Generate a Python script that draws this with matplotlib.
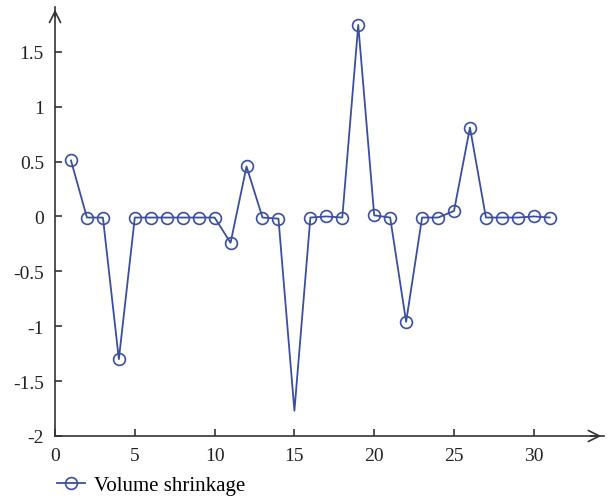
import matplotlib.pyplot as plt
from matplotlib.lines import Line2D

plt.rcParams['font.family'] = ['Liberation Serif', 'DejaVu Serif']

x_vals = list(range(1, 32))
shrinkage = [0.51, -0.01, -0.01, -1.30, -0.01, -0.01, -0.01, -0.01, -0.01, -0.01,
             -0.24, 0.455, -0.01, -0.02, -1.77, -0.01, 0.0, -0.01, 1.745, 0.01,
             -0.01, -0.96, -0.01, -0.01, 0.05, 0.81, -0.01, -0.01, -0.01, 0.0,
             -0.01]
x_ticks = [0, 5, 10, 15, 20, 25, 30]
y_ticks = [-2, -1.5, -1, -0.5, 0, 0.5, 1, 1.5]
y_labels = ['-2', '-1.5', '-1', '-0.5', '0', '0.5', '1', '1.5']
no_marker = [15]

color = '#3a4fa0'

fig = plt.figure(figsize=(6.1, 5.02), dpi=100)
ax = fig.add_axes([0.0902, 0.1295, 0.9, 0.855])

marks = [i for i, xv in enumerate(x_vals) if xv not in no_marker]
ax.plot(x_vals, shrinkage, color=color, linewidth=1.3, marker='o', markersize=8.5,
        markerfacecolor='none', markeredgewidth=1.2, markevery=marks)

ax.set_xlim(0, 34.4)
ax.set_ylim(-2, 1.91)
ax.set_xticks(x_ticks)
ax.set_yticks(y_ticks)
ax.set_yticklabels(y_labels)
ax.tick_params(direction='in', length=5, width=1.2, colors='#333333',
               labelsize=14, labelcolor='#222222', pad=8)

for side in ['top', 'right']:
    ax.spines[side].set_visible(False)
for side in ['left', 'bottom']:
    ax.spines[side].set_linewidth(1.2)
    ax.spines[side].set_color('#333333')

# arrow heads at the axis ends
ax.annotate('', xy=(1.0, 0), xytext=(0.97, 0), xycoords='axes fraction',
            arrowprops=dict(arrowstyle='->', color='#333333', lw=1.2,
                            mutation_scale=20), annotation_clip=False)
ax.annotate('', xy=(0, 1.0), xytext=(0, 0.97), xycoords='axes fraction',
            arrowprops=dict(arrowstyle='->', color='#333333', lw=1.2,
                            mutation_scale=20), annotation_clip=False)

handle = Line2D([], [], color=color, linewidth=1.3, marker='o', markersize=8.5,
                markerfacecolor='none', markeredgewidth=1.2)
fig.legend([handle], ['Volume shrinkage'], loc='lower left',
           bbox_to_anchor=(0.062, -0.025), frameon=False, fontsize=15,
           handlelength=1.35, handletextpad=0.45)

fig.savefig('out.png', dpi=100)
